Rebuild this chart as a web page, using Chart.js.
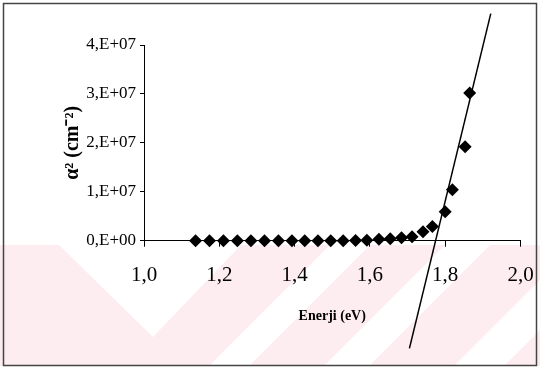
<!DOCTYPE html>
<html lang="tr">
<head>
<meta charset="utf-8">
<title>α² – Enerji</title>
<script src="https://cdn.jsdelivr.net/npm/chart.js@4.4.1/dist/chart.umd.min.js"></script>
<style>
  html, body { margin: 0; padding: 0; background: #fff; }
  #wrap { width: 540px; height: 369px; position: relative; }
</style>
</head>
<body>
<div id="wrap"><canvas id="chart"></canvas></div>
<script>
'use strict';

// ─── Data ────────────────────────────────────────────────────────────────────

const energy = [1.137, 1.174, 1.211, 1.248, 1.284, 1.320, 1.357, 1.393, 1.427, 1.462,
                1.496, 1.529, 1.562, 1.592, 1.624, 1.654, 1.684, 1.712, 1.741, 1.766,
                1.800, 1.819, 1.853, 1.865];
const alpha2 = [0, 0, 0, 0, 0, 0, 0, 0, 0, 0,
                0, 0, 0.05e6, 0.1e6, 0.3e6, 0.4e6, 0.6e6, 0.8e6, 1.85e6, 2.9e6,
                5.9e6, 1.04e7, 1.92e7, 3.02e7];

// hand-drawn fit line, two end points
const fitX = [1.705, 1.921];
const fitY = [-2.2e7, 4.64e7];

const xTickLabels = ['1,0', '1,2', '1,4', '1,6', '1,8', '2,0'];
const yTickLabels = ['0,E+00', '1,E+07', '2,E+07', '3,E+07', '4,E+07'];

// ─── Layout constants ────────────────────────────────────────────────────────

const SERIF = "'Liberation Serif', 'Times New Roman', serif";
const AREA_LEFT = 144;     // y axis position
const AREA_BOTTOM = 240.7; // x axis position

// ─── Plugins: background watermark + outer frame ─────────────────────────────

const backdrop = {
  id: 'backdrop',
  beforeDraw(chart) {
    const { ctx, width } = chart;
    ctx.save();
    ctx.fillStyle = '#fff';
    ctx.fillRect(0, 0, width, chart.height);

    // faint pink band with white chevrons at the bottom
    ctx.fillStyle = '#fdedf0';
    ctx.fillRect(0, 245, width, 121);
    ctx.fillStyle = '#fff';
    ctx.beginPath();
    ctx.moveTo(59, 245); ctx.lineTo(241, 245); ctx.lineTo(153, 337); ctx.closePath();
    const bands = [[575, 615], [690, 735], [820, 870]];
    bands.forEach(([a, b]) => {
      ctx.moveTo(a - 245, 245); ctx.lineTo(b - 245, 245);
      ctx.lineTo(b - 366, 366); ctx.lineTo(a - 366, 366); ctx.closePath();
    });
    ctx.fill();
    ctx.restore();
  },
  afterDraw(chart) {
    const { ctx } = chart;
    ctx.save();
    ctx.strokeStyle = '#444';
    ctx.lineWidth = 1.5;
    ctx.strokeRect(3.5, 3.5, 533, 362);
    ctx.restore();
  },
};

// ─── Chart ───────────────────────────────────────────────────────────────────

const ctx = document.getElementById('chart').getContext('2d');

new Chart(ctx, {
  type: 'scatter',
  data: {
    datasets: [
      {
        label: 'fit',
        data: fitX.map((x, i) => ({ x, y: fitY[i] })),
        showLine: true,
        borderColor: '#000',
        borderWidth: 1.5,
        pointRadius: 0,
        clip: false,
      },
      {
        label: 'α²',
        data: energy.map((x, i) => ({ x, y: alpha2[i] })),
        pointStyle: 'rectRot',
        pointRadius: 6.5,
        backgroundColor: '#000',
        borderColor: '#000',
        borderWidth: 0,
        clip: false,
      },
    ],
  },
  options: {
    responsive: true,
    maintainAspectRatio: false,
    animation: false,
    layout: { padding: { top: 45, right: 19.5, bottom: 0, left: 0 } },
    plugins: {
      legend: { display: false },
      tooltip: { enabled: false },
    },
    scales: {
      x: {
        type: 'linear',
        min: 1,
        max: 2,
        afterFit: s => {
          s.height = 369 - AREA_BOTTOM;
          s.paddingLeft = 0;
          s.paddingRight = 0;
        },
        ticks: {
          stepSize: 0.2,
          padding: 16,
          color: '#000',
          font: { family: SERIF, size: 21 },
          callback: (v, i) => xTickLabels[i],
        },
        grid: { drawOnChartArea: false, tickLength: 6, color: '#000' },
        border: { color: '#000', width: 1 },
        title: {
          display: true,
          text: 'Enerji (eV)',
          color: '#000',
          font: { family: SERIF, size: 14, weight: 'bold' },
          padding: { top: 0, bottom: 44 },
        },
      },
      y: {
        min: 0,
        max: 4e7,
        afterFit: s => { s.width = AREA_LEFT; },
        ticks: {
          stepSize: 1e7,
          padding: 4,
          color: '#000',
          font: { family: SERIF, size: 17 },
          callback: (v, i) => yTickLabels[i],
        },
        grid: { drawOnChartArea: false, tickLength: 4, color: '#000' },
        border: { color: '#000', width: 1 },
        title: {
          display: true,
          text: 'α² (cm⁻²)',
          color: '#000',
          font: { family: SERIF, size: 20, weight: 'bold' },
          padding: { top: 61, bottom: 0 },
        },
      },
    },
  },
  plugins: [backdrop],
});
</script>
</body>
</html>
